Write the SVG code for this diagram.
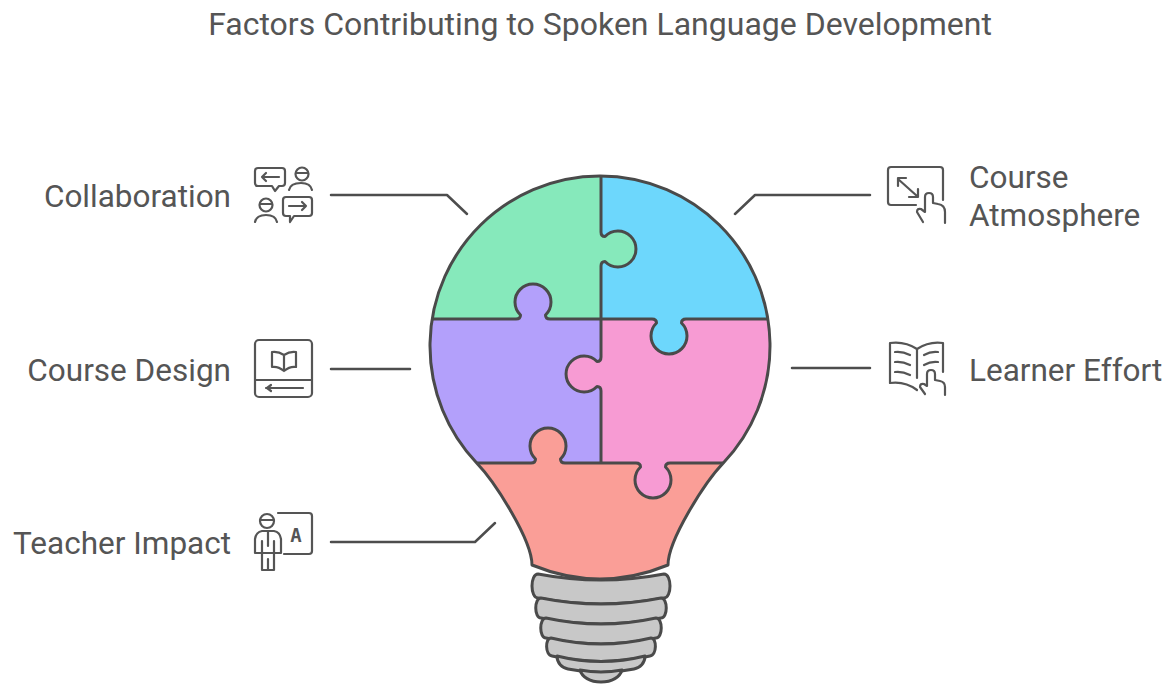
<svg xmlns="http://www.w3.org/2000/svg" width="1173" height="684" viewBox="0 0 1173 684">
  <style>
    .title { font-family: Roboto, "Liberation Sans", sans-serif; font-size: 32px; fill: #555555; }
    .label { font-family: Roboto, "Liberation Sans", sans-serif; font-size: 31.5px; fill: #555555; }
    .edge { fill: none; stroke: #4d4d4d; stroke-width: 2.5; stroke-linecap: round; stroke-linejoin: round; }
    .ico { fill: none; stroke: #555555; stroke-width: 2.2; stroke-linecap: round; stroke-linejoin: round; }
    .seam { fill: none; stroke: #4a4a4a; stroke-width: 3; stroke-linejoin: round; }
    .ring { fill: #c8c8c8; stroke: #4a4a4a; stroke-width: 3; stroke-linejoin: round; }
  </style>
  <defs>
    <clipPath id="bulbClip">
      <path d="M 476.7,463 A 170 170 0 1 1 723.3,463 C 705,482 668,540 668,565 Q 600,593 532,565 C 532,540 495,482 476.7,463 Z"/>
    </clipPath>
  </defs>

  <rect width="1173" height="684" fill="#ffffff"/>

  <text class="title" x="600" y="35" text-anchor="middle">Factors Contributing to Spoken Language Development</text>

  <!-- screw base -->
  <g id="base">
    <path class="ring" d="M 538,574 Q 601,586 664,574 C 672,574 672,598 664,598 Q 601,610 538,598 C 530,598 530,574 538,574 Z"/>
    <path class="ring" d="M 541,598 Q 601,610 661,598 C 668,598 668,618 661,618 Q 601,630 541,618 C 534,618 534,598 541,598 Z"/>
    <path class="ring" d="M 546,618 Q 601,630 656,618 C 663,618 663,638 656,638 Q 601,650 546,638 C 539,638 539,618 546,618 Z"/>
    <path class="ring" d="M 551,638 Q 601,650 651,638 C 657,638 657,655 650,656 Q 601,667 552,656 C 545,655 545,638 551,638 Z"/>
    <path class="ring" d="M 557,656 Q 601,667 645,656 C 645,663 640,668 634,669 Q 601,676 568,669 C 562,668 557,663 557,656 Z"/>
    <path class="ring" d="M 580,670 Q 601,674 622,670 C 620,677 612,682 601,682 C 590,682 582,677 580,670 Z"/>
  </g>

  <!-- puzzle pieces inside the bulb -->
  <g id="bulb" clip-path="url(#bulbClip)">
    <rect id="piece-collaboration" x="420" y="160" width="181" height="159" fill="#86e9bb"/>
    <rect id="piece-atmosphere" x="601" y="160" width="180" height="159" fill="#6dd7fc"/>
    <rect id="piece-design" x="420" y="319" width="181" height="144" fill="#b3a0fb"/>
    <rect id="piece-effort" x="601" y="319" width="180" height="144" fill="#f79bd3"/>
    <rect id="piece-teacher" x="420" y="463" width="360" height="140" fill="#fa9e97"/>
    <!-- interlocking tabs -->
    <path fill="#86e9bb" d="M 601,232 Q 601,236.5 605,236.5 A 18 18 0 1 1 605,261.5 Q 601,261.5 601,266 Z"/>
    <path fill="#b3a0fb" d="M 516,319 Q 520.5,319 520.5,315 A 18 18 0 1 1 545.5,315 Q 545.5,319 550,319 Z"/>
    <path fill="#6dd7fc" d="M 652,319 Q 656.5,319 656.5,323 A 18 18 0 1 0 681.5,323 Q 681.5,319 686,319 Z"/>
    <path fill="#f79bd3" d="M 601,357 Q 601,361.5 597,361.5 A 18 18 0 1 0 597,386.5 Q 601,386.5 601,391 Z"/>
    <path fill="#fa9e97" d="M 531,463 Q 535.5,463 535.5,459 A 18 18 0 1 1 560.5,459 Q 560.5,463 565,463 Z"/>
    <path fill="#f79bd3" d="M 636,463 Q 640.5,463 640.5,467 A 18 18 0 1 0 665.5,467 Q 665.5,463 670,463 Z"/>
    <!-- seams -->
    <path class="seam" d="M 601,170 V 232 Q 601,236.5 605,236.5 A 18 18 0 1 1 605,261.5 Q 601,261.5 601,266 V 357 Q 601,361.5 597,361.5 A 18 18 0 1 0 597,386.5 Q 601,386.5 601,391 V 463"/>
    <path class="seam" d="M 420,319 H 516 Q 520.5,319 520.5,315 A 18 18 0 1 1 545.5,315 Q 545.5,319 550,319 H 652 Q 656.5,319 656.5,323 A 18 18 0 1 0 681.5,323 Q 681.5,319 686,319 H 780"/>
    <path class="seam" d="M 460,463 H 531 Q 535.5,463 535.5,459 A 18 18 0 1 1 560.5,459 Q 560.5,463 565,463 H 636 Q 640.5,463 640.5,467 A 18 18 0 1 0 665.5,467 Q 665.5,463 670,463 H 740"/>
  </g>
  <path class="seam" d="M 476.7,463 A 170 170 0 1 1 723.3,463 C 705,482 668,540 668,565 Q 600,593 532,565 C 532,540 495,482 476.7,463 Z"/>

  <!-- connectors -->
  <g id="connectors">
    <path class="edge" d="M 331,195 H 447 L 467,214"/>
    <path class="edge" d="M 870,195 H 755 L 735,214"/>
    <path class="edge" d="M 331,369 H 410"/>
    <path class="edge" d="M 792,368 H 870"/>
    <path class="edge" d="M 331,542 H 475 L 495,523"/>
  </g>

  <!-- Collaboration -->
  <g id="collaboration">
    <text class="label" x="231" y="207" text-anchor="end">Collaboration</text>
    <path class="ico" d="M 258,168 H 282 Q 285,168 285,171 V 183 Q 285,186 282,186 H 279 L 275,191 L 272,186 H 258 Q 255,186 255,183 V 171 Q 255,168 258,168 Z"/>
    <path class="ico" d="M 279,177 H 262 M 266,173 L 262,177 L 266,181"/>
    <circle class="ico" cx="302" cy="174" r="6.5"/>
    <path class="ico" d="M 296,173 H 308"/>
    <path class="ico" d="M 289,190 C 290,185 295,183 301,183 C 307,183 311,185 312,190"/>
    <circle class="ico" cx="266" cy="205" r="6.5"/>
    <path class="ico" d="M 260,204 H 272"/>
    <path class="ico" d="M 255,222 C 256,217 260,215 266,215 C 272,215 276,217 277,222"/>
    <path class="ico" d="M 286,197 H 309 Q 312,197 312,200 V 213 Q 312,216 309,216 H 294 L 290,222 V 216 H 286 Q 283,216 283,213 V 200 Q 283,197 286,197 Z"/>
    <path class="ico" d="M 289,206 H 306 M 302,202 L 306,206 L 302,210"/>
  </g>

  <!-- Course Atmosphere -->
  <g id="course-atmosphere">
    <text class="label" x="969" y="188">Course</text>
    <text class="label" x="969" y="226">Atmosphere</text>
    <path class="ico" d="M 916,205 H 891 Q 888,205 888,202 V 170 Q 888,167 891,167 H 940 Q 943,167 943,170 V 200"/>
    <path class="ico" d="M 898,179 L 917,196 M 898,186 V 178 H 906 M 909,197 H 918 V 189"/>
    <path class="ico" d="M 945,223 V 212 Q 945,205 938,204 L 933,203 V 197 Q 933,193 929,193 Q 925,193 925,197 V 212 L 921,209 Q 917,208 917,212 L 923,222"/>
  </g>

  <!-- Course Design -->
  <g id="course-design">
    <text class="label" x="231" y="381" text-anchor="end">Course Design</text>
    <rect class="ico" x="255" y="340" width="57" height="57" rx="4"/>
    <path class="ico" d="M 255,380 H 312"/>
    <path class="ico" d="M 272,352 V 367 Q 278,366 284,371 Q 290,366 296,367 V 352 Q 290,351 284,355 Q 278,351 272,352 Z M 284,355 V 371"/>
    <path class="ico" d="M 266,388 H 303 M 271,385 L 267,388 L 271,391"/>
  </g>

  <!-- Learner Effort -->
  <g id="learner-effort">
    <text class="label" x="969" y="381">Learner Effort</text>
    <path class="ico" d="M 917,390 Q 905,381 890,383 V 343 Q 905,341 917,349 Q 929,341 943,343 V 372"/>
    <path class="ico" d="M 917,349 V 378"/>
    <path class="ico" d="M 895,352 Q 902,351 910,355 M 895,362 Q 902,361 910,365 M 895,372 Q 902,371 910,375"/>
    <path class="ico" d="M 924,355 Q 931,351 938,352 M 924,365 Q 931,361 938,362"/>
    <path class="ico" d="M 945,395 V 387 Q 945,382 940,381 L 935,380 V 374 Q 935,370 931,370 Q 927,370 927,374 V 386 L 924,384 Q 920,383 920,387 L 925,394"/>
  </g>

  <!-- Teacher Impact -->
  <g id="teacher-impact">
    <text class="label" x="231" y="554" text-anchor="end">Teacher Impact</text>
    <circle class="ico" cx="267" cy="521" r="7"/>
    <path class="ico" d="M 260,520 H 274"/>
    <path class="ico" d="M 255,553 V 539 Q 256,532 262,531 H 274 Q 280,532 281,539 V 553 Z"/>
    <path class="ico" d="M 262,541 V 553 M 274,541 V 553 M 268,532 V 546"/>
    <path class="ico" d="M 262,553 V 570 H 274 V 553 M 268,559 V 570"/>
    <path class="ico" d="M 278,513 H 309 Q 312,513 312,516 V 551 Q 312,554 309,554 H 284"/>
    <text x="296" y="542" text-anchor="middle" font-family="DejaVu Sans Mono, monospace" font-weight="bold" font-size="19" fill="#555555">A</text>
  </g>
</svg>
